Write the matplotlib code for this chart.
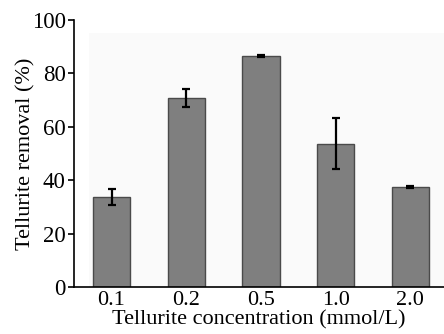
import numpy as np
import matplotlib
matplotlib.use('Agg')
import matplotlib.pyplot as plt
from matplotlib.patches import Rectangle

# データ
concentrations = ['0.1', '0.2', '0.5', '1.0', '2.0']
removal = [33.8, 70.8, 86.6, 53.6, 37.4]
removal_err = [3.0, 3.3, 0.3, 9.6, 0.3]

plt.rcParams['font.family'] = ['Liberation Serif', 'DejaVu Serif']

fig = plt.figure(figsize=(4.44, 3.34), dpi=100)
ax = fig.add_axes([0.167, 0.141, 0.833, 0.799])

# 背景のうっすらした網掛け
ax.add_patch(Rectangle((-0.3, 0), 5.0, 95, facecolor='#fafafa', edgecolor='none', zorder=0))

x = np.arange(len(concentrations))
ax.bar(x, removal, width=0.5, color='#7f7f7f', edgecolor='#4a4a4a', linewidth=1.0, zorder=2)
ax.errorbar(x, removal, yerr=removal_err, fmt='none', ecolor='black',
            elinewidth=1.6, capsize=3, capthick=1.6, zorder=3)

ax.set_xlim(-0.5, 4.45)
ax.set_ylim(0, 100)
ax.set_yticks([0, 20, 40, 60, 80, 100])
ax.set_xticks(x)
ax.set_xticklabels(concentrations)

for s in ['top', 'right']:
    ax.spines[s].set_visible(False)
for s in ['left', 'bottom']:
    ax.spines[s].set_linewidth(1.2)

ax.tick_params(axis='y', direction='out', length=4, width=1.2, labelsize=16.5, pad=2)
ax.tick_params(axis='x', length=0, labelsize=16, pad=3)

ax.set_ylabel('Tellurite removal (%)', fontsize=16, labelpad=-3)
ax.set_xlabel('Tellurite concentration (mmol/L)', fontsize=16, labelpad=0)

fig.savefig('out.png', dpi=100)
